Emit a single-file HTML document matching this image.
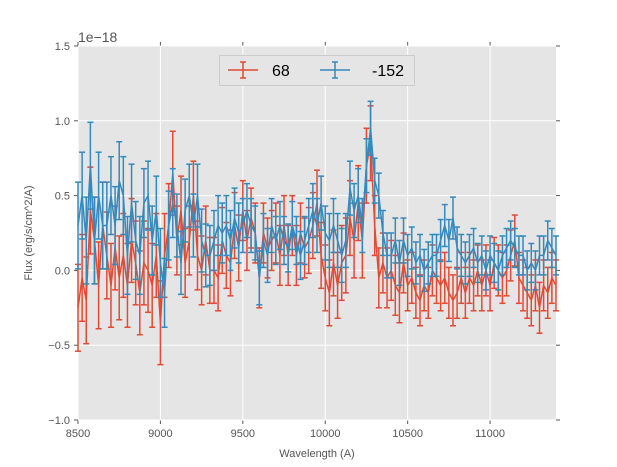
<!DOCTYPE html>
<html><head><meta charset="utf-8"><style>
body{margin:0;background:#fff;}
svg{display:block;font-family:"Liberation Sans",sans-serif;}
</style></head><body>
<svg id="chart" width="617" height="467"></svg>
<script>
const red68 = [-2.5,-0.5,-2,4,2,-1,3,1,-1, 1.5,-0.5,1,-1,2,0.5,-1.5,0.5, 0,-1,1,-3.5,1,3,6.5,2, 4,0.5,2,5,1,0,2,0, 0,-0.5,2,1,0.5,3,1.5,4, 2,3.5,2.5,-0.5,2.5,1.5,2,2.5, 1,3,1,3,1,2.5,1.5,2, 3,4.5,1,-0.5,-1.5,0.5,-1,0.5, 1,3.5,2,4.5,2,7,8.5,3, -0.5,0.5,-0.5,0,-1,-1.5,0.5,-1, -0.5,-1.5,-2,-1,-1.5,0,-0.5,-1, -0.5,-1.5,-2,-1.5,-0.5,-1.5,-0.5,-1, 0,-1,0,-1,0.5,0,-0.5,0, 1,2,-0.5,-1,-1.5,-2,-1,-2.5, -1,-1.5,-0.5,-1];
const blue152 = [3,5,2,7,2,5,3,3,5, 3,6,5,1,4.5,2,1,4.5, 5,2,4,0.5,-1.5,3,4.5,3, 0.5,4,5,3,5,2,1,1, 2,3,2.5,3,2,3.5,2.5,3, 4,3,2.5,-0.5,2,1,3,2, 3,2,1.5,3,2,1,2,3, 4,3,4.5,2.5,2,3,2,1, 2,5.5,4,5,3,7,9.5,6, 5,2.5,1,1,2,0.5,2,1, 1.5,0.5,1,0,0.5,1,1,2, 3,2,3.5,1.5,1,0.5,1,1.5, 0.5,1,0,1,0.5,0,1,1.5, 2,1.5,1,1,0,0.5,0,1, 1,2,1.5,1];
const redErrSeg = [2.9,2.8,2.8,2.3,2.2,2,2,2.2,2.5,2,1.7,1.7,1.7,1.7,1.7];
const blueErrSeg = [2.9,2.6,2.3,2.1,2,1.8,1.6,1.8,1.8,1.5,1.4,1.4,1.3,1.3,1.3];
const wavelengthStart = 8500, wavelengthStep = 25;
const xTicks = [8500,9000,9500,10000,10500,11000];
const xTickLabels = ["8500","9000","9500","10000","10500","11000"];
const yTicks = [-1.0,-0.5,0.0,0.5,1.0,1.5];
const yTickLabels = ["\u22121.0","\u22120.5","0.0","0.5","1.0","1.5"];

const L=78,R=556,T=46,B=420;
const X=v=>L+(v-8500)/(11400-8500)*(R-L);
const Y=v=>B-(v+1.0)/2.5*(B-T);
const svg=document.getElementById('chart');
const NS='http://www.w3.org/2000/svg';
function mk(tag,attrs,parent){const e=document.createElementNS(NS,tag);for(const k in attrs)e.setAttribute(k,attrs[k]);(parent||svg).appendChild(e);return e;}

const bg=mk('rect',{x:L,y:T,width:R-L,height:B-T,fill:'#e5e5e5'});



xTicks.forEach((t,i)=>{
  const g=mk('line',{x1:X(t),x2:X(t),y1:T,y2:B,stroke:'#fff','stroke-width':1});
  
  
  mk('line',{x1:X(t),x2:X(t),y1:B,y2:B+4,stroke:'#555'});
  mk('line',{x1:X(t),x2:X(t),y1:T,y2:T-4,stroke:'#555'});
  const tx=mk('text',{x:X(t),y:B+17,'text-anchor':'middle','font-size':11,fill:'#555'});
  tx.textContent=xTickLabels[i];
  
  
});
yTicks.forEach((t,i)=>{
  const g=mk('line',{x1:L,x2:R,y1:Y(t),y2:Y(t),stroke:'#fff','stroke-width':1});
  
  
  mk('line',{x1:L-4,x2:L,y1:Y(t),y2:Y(t),stroke:'#555'});
  mk('line',{x1:R,x2:R+4,y1:Y(t),y2:Y(t),stroke:'#555'});
  const tx=mk('text',{x:L-8,y:Y(t)+4,'text-anchor':'end','font-size':11,fill:'#555'});
  tx.textContent=yTickLabels[i];
  
  
});

function series(vals,errSeg,color,name){
  const g=mk('g',{});
  
  
  let pts=[];
  vals.forEach((v,i)=>{
    const w=wavelengthStart+i*wavelengthStep;
    const e=errSeg[Math.min(errSeg.length-1,Math.floor(i/8))];
    const x=X(w),y0=Y((v-e)/10),y1=Y((v+e)/10);
    mk('line',{x1:x,x2:x,y1:y0,y2:y1,stroke:color,'stroke-width':1.5},g);
    mk('line',{x1:x-3,x2:x+3,y1:y0,y2:y0,stroke:color,'stroke-width':1.5},g);
    mk('line',{x1:x-3,x2:x+3,y1:y1,y2:y1,stroke:color,'stroke-width':1.5},g);
    pts.push(x.toFixed(1)+','+Y(v/10).toFixed(1));
  });
  mk('polyline',{points:pts.join(' '),fill:'none',stroke:color,'stroke-width':1.5},g);
}
series(red68,redErrSeg,'#E24A33','series-68');
series(blue152,blueErrSeg,'#348ABD','series-minus-152');

const off=mk('text',{x:L,y:T-4,'font-size':14,fill:'#555'});
off.textContent='1e\u221218';



const xl=mk('text',{x:(L+R)/2,y:457,'text-anchor':'middle','font-size':11,fill:'#555'});
xl.textContent='Wavelength (A)';


const yl=mk('text',{x:0,y:0,'text-anchor':'middle','font-size':11,fill:'#555',transform:'translate(32,233) rotate(-90)'});
yl.textContent='Flux (erg/s/cm^2/A)';



const leg=mk('g',{});


mk('rect',{x:219.5,y:55.5,width:195,height:30,fill:'#e5e5e5',stroke:'#cccccc'},leg);
[['#E24A33','68',228,272],['#348ABD','-152',320,372]].forEach(([c,lab,x0,tx])=>{
  const e=mk('g',{},leg);
  
  
  mk('line',{x1:x0,x2:x0+30,y1:70,y2:70,stroke:c,'stroke-width':1.5},e);
  mk('line',{x1:x0+15,x2:x0+15,y1:62,y2:78,stroke:c,'stroke-width':1.5},e);
  mk('line',{x1:x0+12,x2:x0+18,y1:62,y2:62,stroke:c,'stroke-width':1.5},e);
  mk('line',{x1:x0+12,x2:x0+18,y1:78,y2:78,stroke:c,'stroke-width':1.5},e);
  const t=mk('text',{x:tx,y:76,'font-size':16,fill:'#000'},e);
  t.textContent=lab;
});
</script>
</body></html>
